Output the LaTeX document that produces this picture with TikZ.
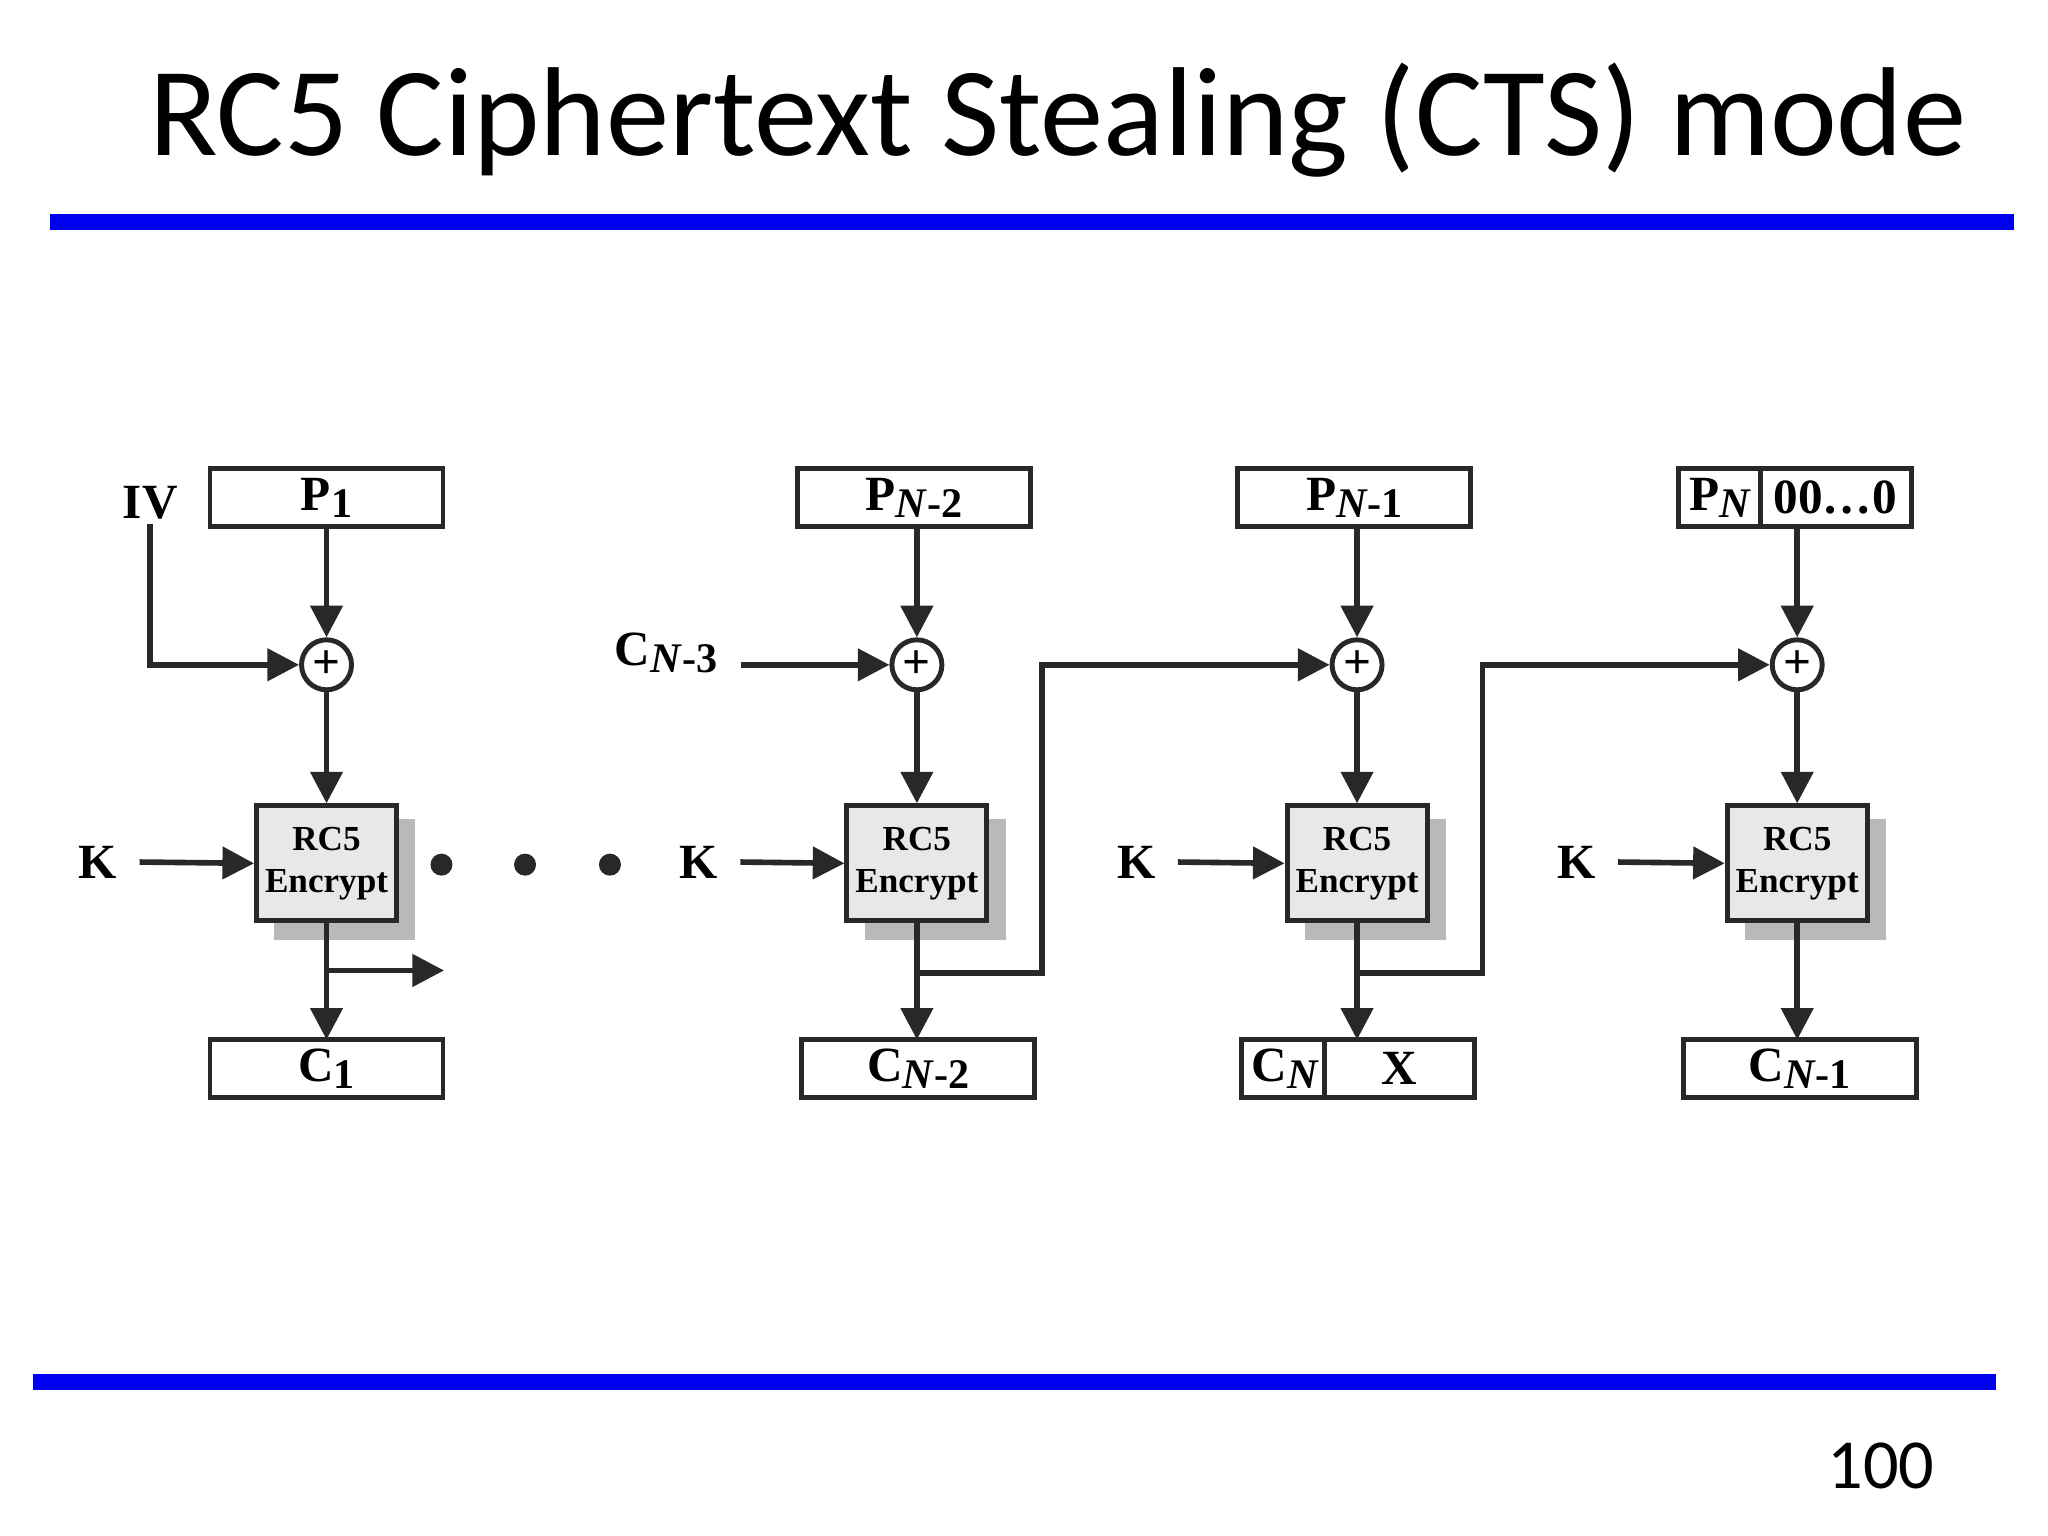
\documentclass[tikz,border=0pt]{standalone}
\usepackage{fontspec}
\setmainfont{Liberation Serif}
\newfontfamily\titlefont{Carlito}
\usetikzlibrary{arrows.meta}
\definecolor{slideblue}{RGB}{0,0,240}
\definecolor{lineg}{RGB}{40,40,40}
\newcommand{\subx}[1]{\raisebox{-0.3ex}{\fontsize{12}{12}\selectfont #1}}
\begin{document}
\begin{tikzpicture}[x={(0.013061cm,0)},y={(0,-0.013061cm)},
 box/.style={draw=lineg,line width=1.4pt,minimum width=2.33cm,minimum height=0.58cm,inner sep=0pt,font=\bfseries\fontsize{14}{16}\selectfont},
 enc/.style={draw=lineg,line width=1.4pt,fill=gray!18,minimum width=1.40cm,minimum height=1.15cm,inner sep=0pt,align=center,font=\bfseries\fontsize{10}{12}\selectfont},
 xor/.style={draw=lineg,line width=1.4pt,circle,minimum size=0.5cm,inner sep=0pt,font=\bfseries\fontsize{14}{14}\selectfont,fill=white},
 lbl/.style={font=\bfseries\fontsize{14}{16}\selectfont,inner sep=1pt},
 arr/.style={line width=1.6pt,draw=lineg,-{Triangle[length=9pt,width=9pt]}},
 ln/.style={line width=1.6pt,draw=lineg}]
\useasboundingbox (0,0) rectangle (1568,1176);
\node[font=\titlefont\fontsize{36}{42}\selectfont] (title) at (810,92) {RC5 Ciphertext Stealing (CTS) mode};
\fill[slideblue] (38,164) rectangle (1542,176);
\fill[slideblue] (25,1052) rectangle (1528,1064);
\node[font=\titlefont\fontsize{20}{24}\selectfont] (pg) at (1440,1122) {100};
\foreach \i/\x in {1/250,2/702,3/1039,4/1376}{
  \fill[gray!55] (\x-40,627) rectangle (\x+68,720);
  \node[enc] (e\i) at (\x,661) {RC5\\Encrypt};
  \node[xor] (x\i) at (\x,509) {+};
}
\node[box] (p1) at (250,381) {P\subx{1}};
\node[box] (p2) at (700,381) {P\subx{\textit{N}-2}};
\node[box] (p3) at (1037,381) {P\subx{\textit{N}-1}};
\node[box] (p4) at (1374,381) {};
\draw[ln] (1348,358) -- (1348,403);
\node[lbl] (pn) at (1317,381) {P\subx{\textit{N}}};
\node[lbl] (zz) at (1405,381) {00\ldots0};
\node[box] (c1) at (250,818) {C\subx{1}};
\node[box] (c2) at (703,818) {C\subx{\textit{N}-2}};
\node[box] (c3) at (1040,818) {};
\draw[ln] (1014,796) -- (1014,840);
\node[lbl] (cn) at (984,818) {C\subx{\textit{N}}};
\node[lbl] (xx) at (1071,818) {X};
\node[box] (c4) at (1378,818) {C\subx{\textit{N}-1}};
\draw[arr] (p1) -- (x1); \draw[arr] (x1) -- (e1); \draw[arr] (e1) -- (250,796);
\draw[arr] (702,403) -- (x2); \draw[arr] (x2) -- (e2); \draw[arr] (e2) -- (702,796);
\draw[arr] (1039,403) -- (x3); \draw[arr] (x3) -- (e3); \draw[arr] (e3) -- (1039,796);
\draw[arr] (1376,403) -- (x4); \draw[arr] (x4) -- (e4); \draw[arr] (e4) -- (1376,796);
\node[lbl] (iv) at (115,385) {IV};
\draw[arr] (iv.south) |- (x1);
\node[lbl] (cn3) at (510,500) {C\subx{\textit{N}-3}};
\coordinate (cs) at (567,509);
\draw[arr] (cs) -- (x2);
\foreach \i/\kx in {1/75,2/535,3/870,4/1207}{
  \node[lbl] (k\i) at (\kx,660) {K};
  \draw[arr] (k\i.east)++(14,0) -- (e\i.west);
}
\foreach \dx in {338,402,467} \fill[lineg] (\dx,662) circle (0.11cm);
\coordinate (s1) at (250,743); \coordinate (s2) at (340,743);
\draw[arr] (s1) -- (s2);
\coordinate (a1) at (702,745); \coordinate (a2) at (798,745); \coordinate (a3) at (798,509);
\draw[arr] (a1) -- (a2) -- (a3) -- (x3);
\coordinate (b1) at (1039,745); \coordinate (b2) at (1135,745); \coordinate (b3) at (1135,509);
\draw[arr] (b1) -- (b2) -- (b3) -- (x4);
\end{tikzpicture}
\end{document}
